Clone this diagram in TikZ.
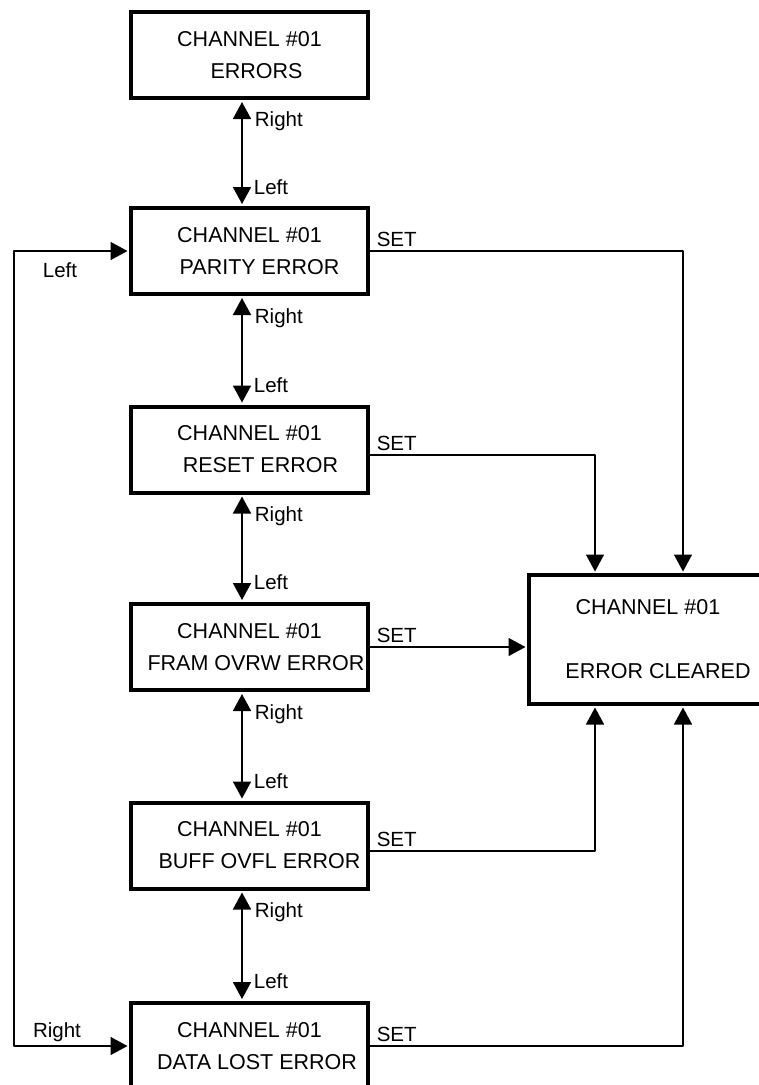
\documentclass[tikz,border=0pt]{standalone}
\usepackage{fontspec}
\setmainfont{Liberation Sans}
\usetikzlibrary{arrows.meta,positioning}
\begin{document}
\begin{tikzpicture}[x=1pt,y=-1pt,line join=round,>={Triangle[length=17pt,width=18pt]}]
	\tikzset{state/.style={draw,line width=4pt,line join=miter,minimum width=237pt,minimum height=86pt,
			inner sep=0pt,align=center,font=\fontsize{21.5}{32}\selectfont},
		lbl/.style={inner sep=0pt,font=\fontsize{20.5}{24}\selectfont},
		set/.style={lbl,anchor=south west,xshift=6pt,yshift=4pt},
		conn/.style={line width=1.5pt,->,shorten >=1.5pt},
		move/.style={line width=1.8pt,<->,shorten >=2pt,shorten <=2pt}}
	\clip (0,0) rectangle (759,1085);
	% states
	\node[state] (err) at (249.5,55) {CHANNEL \#01\\\hspace*{14pt}ERRORS};
	\node[state] (par) at (249.5,251) {CHANNEL \#01\\\hspace*{20pt}PARITY ERROR};
	\node[state] (rst) at (249.5,449.5) {CHANNEL \#01\\\hspace*{22pt}RESET ERROR};
	\node[state] (frm) at (249.5,647) {CHANNEL \#01\\\hspace*{13pt}FRAM OVRW ERROR};
	\node[state] (buf) at (249.5,845.5) {CHANNEL \#01\\\hspace*{20pt}BUFF OVFL ERROR};
	\node[state] (dat) at (249.5,1046) {CHANNEL \#01\\\hspace*{15pt}DATA LOST ERROR};
	\node[state,minimum width=238pt,minimum height=129pt] (clr) at (648,639.5) {CHANNEL \#01\\[32pt]\hspace*{20pt}ERROR CLEARED};
	\coordinate (ca) at (595,0);
	\coordinate (cb) at (683,0);
	\coordinate (lp) at (14,0);
	% moves between states
	\foreach \a/\b in {err/par,par/rst,rst/frm,frm/buf,buf/dat}
	\draw[move] ([xshift=-7.5pt]\a.south) -- ([xshift=-7.5pt]\b.north)
	node[lbl,pos=0.2,anchor=west,xshift=12pt]{Right}
	node[lbl,pos=0.82,anchor=west,xshift=11pt]{Left};
	\draw[conn,<->,shorten <=1.5pt] (par.west) -- (par.west -| lp) -- (dat.west -| lp) -- (dat.west);
	\node[lbl] (lftL) at (60,270) {Left};
	\node[lbl] (rgtL) at (57,1032) {Right};
	% set transitions
	\draw[conn] (par.east) node[set]{SET} -| (clr.north -| cb);
	\draw[conn] ([yshift=-5.5pt]rst.east) node[set]{SET} -| (clr.north -| ca);
	\draw[conn] (frm.east) node[set]{SET} -- (clr.west |- frm.east);
	\draw[conn] ([yshift=-5.5pt]buf.east) node[set]{SET} -| (clr.south -| ca);
	\draw[conn] (dat.east) node[set]{SET} -| (clr.south -| cb);
\end{tikzpicture}
\end{document}
